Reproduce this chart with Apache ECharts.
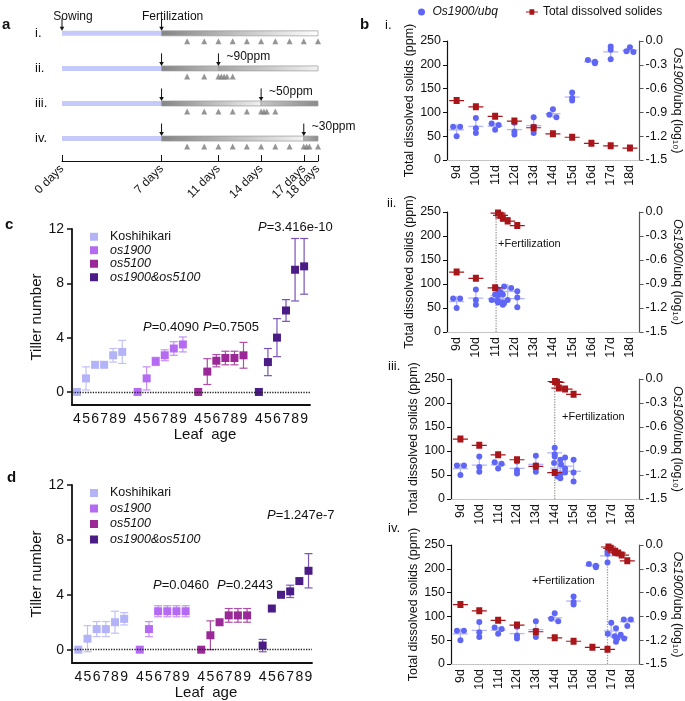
<!DOCTYPE html>
<html>
<head>
<meta charset="utf-8">
<script src="https://cdn.jsdelivr.net/npm/echarts@6.0.0/dist/echarts.min.js"></script>
<style>
html,body{margin:0;padding:0;background:#ffffff;}
#chart{width:685px;height:701px;}
</style>
</head>
<body>
<div id="chart"></div>
<script>
// ===== Panel a: experimental timeline =====
const timelineTickDays = [0, 7, 11, 14, 17, 18];
const timelineRowLabels = ['i.', 'ii.', 'iii.', 'iv.'];
const sowingDay = 0;
const fertilizationDay = 7;
const lastDay = 18;
const secondFertDays = [null, 11, 14, 17];
const secondFertLabels = ['', '~90ppm', '~50ppm', '~30ppm'];
const samplingDaysI = [8.8, 10, 11, 12, 13, 14, 15, 16, 17, 18];
const samplingDaysII = [8.8, 10, 11, 11.2, 11.4, 11.6, 12];
const samplingDaysIII = [8.8, 10, 11, 12, 13, 14, 14.2, 14.4, 15];
const samplingDaysIV = [8.8, 10, 11, 12, 13, 14, 15, 16, 17, 17.2, 17.4, 18];

// ===== Panel b: total dissolved solids (ppm) and Os1900/ubq (log10) =====
const bDayTicks = [9, 10, 11, 12, 13, 14, 15, 16, 17, 18];
const tdsI = [[9,125],[10,112],[11,92],[12,82],[13,68],[14,55],[15,48],[16,35],[17,30],[18,25]];
const tdsII = [[9,125],[10,112],[11,92],[11.15,248],[11.28,243],[11.4,238],[11.65,231],[12.15,222]];
const tdsIII = [[9,125],[10,112],[11,92],[12,82],[13,68],[14,55],[14.02,245],[14.12,243],[14.22,231],[14.55,229],[15,218]];
const tdsIV = [[9,125],[10,112],[11,92],[12,82],[13,68],[14,55],[15,48],[16,35],[16.8,31],[16.85,246],[16.97,243],[17.2,235],[17.37,233],[17.55,229],[17.85,217]];

const osI = [[9,[-1.08,-1.08,-1.20]],[10,[-0.97,-1.10,-1.16]],[11,[-1.04,-1.06,-1.12]],[12,[-1.03,-1.14,-1.18]],[13,[-0.96,-1.08,-1.16]],[14,[-0.86,-0.93,-0.96]],[15,[-0.65,-0.72,-0.75]],[16,[-0.24,-0.26,-0.28]],[17,[-0.07,-0.11,-0.23]],[18,[-0.08,-0.13,-0.14]]];
const osII = [[9,[-1.08,-1.08,-1.20]],[10,[-0.97,-1.10,-1.16]],[11,[-1.03,-1.10,-1.12]],[11.15,[-0.97,-1.04,-1.13]],[11.28,[-1.00,-1.11,-1.14]],[11.4,[-1.03,-1.13,-1.16]],[11.65,[-0.93,-0.95,-1.10]],[12.15,[-0.99,-1.07,-1.19]]];
const osIII = [[9,[-1.08,-1.08,-1.20]],[10,[-0.97,-1.10,-1.16]],[11,[-1.04,-1.06,-1.12]],[12,[-1.03,-1.14,-1.18]],[13,[-0.96,-1.08,-1.16]],[14,[-0.86,-0.94,-0.97]],[14.15,[-1.05,-1.07,-1.22]],[14.3,[-1.01,-1.19,-1.24]],[14.55,[-0.98,-1.12,-1.17]],[15,[-1.01,-1.17,-1.28]]];
const osIV = [[9,[-1.08,-1.08,-1.20]],[10,[-0.97,-1.10,-1.16]],[11,[-1.04,-1.06,-1.12]],[12,[-1.03,-1.14,-1.18]],[13,[-0.96,-1.08,-1.16]],[14,[-0.86,-0.93,-0.96]],[15,[-0.65,-0.72,-0.75]],[16,[-0.24,-0.26,-0.28]],[16.8,[-0.08,-0.11,-0.22]],[17,[-0.98,-1.12,-1.15]],[17.25,[-1.05,-1.17,-1.22]],[17.5,[-1.13,-1.18,-1.18]],[17.85,[-0.94,-0.94,-1.02]]];

const fertII = [11.05, 248];
const fertIII = [14.0, 245];
const fertIV = [16.8, 246];

// ===== Panels c, d: tiller number vs leaf age =====
const leafAges = [4, 5, 6, 7, 8, 9];
const genotypeNames = ['Koshihikari', 'os1900', 'os5100', 'os1900&os5100'];
const cKoshiMean = [0, 1.0, 2.0, 2.0, 2.7, 2.95];
const cKoshiErr = [0, 0.85, 0, 0, 0.5, 0.85];
const cOs1900Mean = [0, 1.0, 2.25, 2.7, 3.2, 3.5];
const cOs1900Err = [0, 0.85, 0.3, 0.4, 0.5, 0.55];
const cOs5100Mean = [0, 1.5, 2.3, 2.5, 2.5, 2.7];
const cOs5100Err = [0, 0.95, 0.45, 0.5, 0.5, 0.95];
const cDoubleMean = [0, 2.2, 4.0, 6.0, 9.0, 9.25];
const cDoubleErr = [0, 1.0, 1.4, 0.8, 2.3, 2.05];
const dKoshiMean = [0, 0.8, 1.5, 1.5, 2.0, 2.25];
const dKoshiErr = [0, 0.95, 0.55, 0.55, 0.8, 0.45];
const dOs1900Mean = [0, 1.5, 2.8, 2.8, 2.8, 2.8];
const dOs1900Err = [0, 0.55, 0.4, 0.4, 0.4, 0.4];
const dOs5100Mean = [0, 1.05, 2.0, 2.5, 2.5, 2.5];
const dOs5100Err = [0, 1.05, 0, 0.5, 0.5, 0.5];
const dDoubleMean = [0.3, 3.0, 4.0, 4.25, 5.0, 5.75];
const dDoubleErr = [0.45, 0, 0, 0.45, 0, 1.25];
const pValuesC = ['0.4090', '0.7505', '3.416e-10'];
const pValuesD = ['0.0460', '0.2443', '1.247e-7'];
const tillerTicks = [0, 4, 8, 12];

// ================= rendering =================
const chart = echarts.init(document.getElementById('chart'), null, {renderer: 'canvas', width: 685, height: 701});
const FONT = '"Liberation Sans", Arial, Helvetica, sans-serif';
const INK = '#111111';
const RED_SYM = 'path://M0,3 L4.5,3 L4.5,0 L10.5,0 L10.5,3 L15,3 L15,4.2 L10.5,4.2 L10.5,7 L4.5,7 L4.5,4.2 L0,4.2 Z';

// ---- panel a ----
const shadeFirst = [['#858585', '#ffffff'], ['#858585', '#bdbdbd'], ['#858585', '#f0f0f0'], ['#858585', '#f4f4f4']];
const shadeSecond = [null, ['#a3a3a3', '#f2f2f2'], ['#c6c6c6', '#8a8a8a'], ['#b3b3b3', '#8a8a8a']];
const blueBarData = timelineRowLabels.map((_, r) => [r, sowingDay, fertilizationDay]);
const greyBarData = [];
const greyBarShade = [];
timelineRowLabels.forEach((_, r) => {
  const mid = secondFertDays[r];
  greyBarData.push([r, fertilizationDay, mid == null ? lastDay : mid]);
  greyBarShade.push(shadeFirst[r]);
  if (mid != null) { greyBarData.push([r, mid, lastDay]); greyBarShade.push(shadeSecond[r]); }
});
function barRender(kind) {
  return function (params, api) {
    const r = api.value(0), x0 = api.value(1), x1 = api.value(2);
    const p0 = api.coord([x0, r]), p1 = api.coord([x1, r]);
    let style;
    if (kind === 'blue') style = {fill: '#c6cafb'};
    else {
      const sh = greyBarShade[params.dataIndex];
      style = {fill: new echarts.graphic.LinearGradient(0, 0, 1, 0, [{offset: 0, color: sh[0]}, {offset: 1, color: sh[1]}]), stroke: '#9a9a9a', lineWidth: 0.7};
    }
    return {type: 'rect', shape: {x: p0[0], y: p0[1] - 2.5, width: p1[0] - p0[0], height: 5}, style};
  };
}
const triangleData = [];
[samplingDaysI, samplingDaysII, samplingDaysIII, samplingDaysIV].forEach((days, r) => days.forEach(d => triangleData.push([d, r])));
const arrowData = [[sowingDay, 0, 'Sowing', 'above']];
timelineRowLabels.forEach((_, r) => {
  arrowData.push([fertilizationDay, r, r === 0 ? 'Fertilization' : '', 'above']);
  if (secondFertDays[r] != null) arrowData.push([secondFertDays[r], r, secondFertLabels[r], 'side']);
});
function arrowRender(params, api) {
  const p = api.coord([api.value(0), api.value(1)]);
  const a = arrowData[params.dataIndex];
  const x = p[0], yTop = p[1] - 15, yTip = p[1] - 2.5;
  const children = [
    {type: 'line', shape: {x1: x, y1: yTop, x2: x, y2: yTip - 3}, style: {stroke: INK, lineWidth: 1}},
    {type: 'polygon', shape: {points: [[x - 2.3, yTip - 4], [x + 2.3, yTip - 4], [x, yTip]]}, style: {fill: INK}}
  ];
  if (a[2]) {
    if (a[3] === 'above') children.push({type: 'text', x: x + 11, y: p[1] - 17, style: {text: a[2], align: 'center', verticalAlign: 'middle', fontSize: 12, fontFamily: FONT, fill: INK}});
    else children.push({type: 'text', x: x + 8, y: p[1] - 12, style: {text: a[2], align: 'left', verticalAlign: 'middle', fontSize: 12, fontFamily: FONT, fill: INK}});
  }
  return {type: 'group', children};
}

// ---- panel b ----
function dotsOf(groups) {
  const out = [];
  groups.forEach(([x, vals]) => {
    vals.forEach((v, j) => {
      const near = vals.filter((w, i) => i !== j && Math.abs(w - v) < 0.03).length;
      const before = vals.filter((w, i) => i < j && Math.abs(w - v) < 0.03).length;
      const off = near ? (before ? 3.5 : -3.5) : 0;
      out.push({value: [x, v], symbolOffset: [off, 0]});
    });
  });
  return out;
}
function meanSdOf(groups) {
  return groups.map(([x, vals]) => {
    const m = vals.reduce((s, v) => s + v, 0) / vals.length;
    const sd = Math.sqrt(vals.reduce((s, v) => s + (v - m) * (v - m), 0) / (vals.length - 1));
    return [x, m, sd];
  });
}
function meanSdRender(params, api) {
  const x = api.value(0), m = api.value(1), s = api.value(2);
  const pm = api.coord([x, m]), pt = api.coord([x, m + s]), pb = api.coord([x, m - s]);
  const st = {stroke: '#b2b6fb', lineWidth: 1.3};
  return {type: 'group', children: [
    {type: 'line', shape: {x1: pm[0] - 7.5, y1: pm[1], x2: pm[0] + 7.5, y2: pm[1]}, style: st},
    {type: 'line', shape: {x1: pt[0], y1: pt[1], x2: pb[0], y2: pb[1]}, style: st}
  ]};
}
const bSets = [
  {tds: tdsI, os: osI, fert: null},
  {tds: tdsII, os: osII, fert: fertII},
  {tds: tdsIII, os: osIII, fert: fertIII},
  {tds: tdsIV, os: osIV, fert: fertIV}
];
const bGrids = [
  {left: 447, top: 41, width: 194, height: 119},
  {left: 447, top: 212, width: 196, height: 120},
  {left: 451, top: 379, width: 194, height: 120},
  {left: 451, top: 545, width: 194, height: 119}
];

// ---- panels c, d ----
const GROUP_STRIDE = 6.7;
function gx(g, leaf) { return +(g * GROUP_STRIDE + (leaf - 4)).toFixed(3); }
const leafTickValues = [];
for (let g = 0; g < 4; g++) leafTickValues.push(...leafAges.map(l => gx(g, l)));
function leafLabel(v) {
  const g = Math.floor((v + 0.5) / GROUP_STRIDE);
  return String(Math.round(v - g * GROUP_STRIDE) + 4);
}
const genoColors = ['#b3b3f7', '#b46bf2', '#9b2897', '#4b1c85'];
const genoErrColors = ['#c0c0f8', '#c48ff5', '#ad4ea8', '#7954b8'];
function errRender(color) {
  return function (params, api) {
    const x = api.value(0), m = api.value(1), e = api.value(2);
    if (!e) return {type: 'group', children: []};
    const t = api.coord([x, m + e]), b = api.coord([x, m - e]);
    const st = {stroke: color, lineWidth: 1.2};
    return {type: 'group', children: [
      {type: 'line', shape: {x1: t[0], y1: t[1], x2: b[0], y2: b[1]}, style: st},
      {type: 'line', shape: {x1: t[0] - 4, y1: t[1], x2: t[0] + 4, y2: t[1]}, style: st},
      {type: 'line', shape: {x1: b[0] - 4, y1: b[1], x2: b[0] + 4, y2: b[1]}, style: st}
    ]};
  };
}
function tillerSeries(xi, yi, means, errs) {
  const out = [];
  means.forEach((mean, g) => {
    const err = errs[g];
    const errSeries = {
      type: 'custom', name: 'err' + g, xAxisIndex: xi, yAxisIndex: yi, z: 2, silent: true,
      encode: {x: 0, y: 1},
      data: leafAges.map((l, k) => [gx(g, l), mean[k], err[k]]),
      renderItem: errRender(genoErrColors[g])
    };
    if (g === 0) errSeries.markLine = {silent: true, symbol: 'none', label: {show: false}, lineStyle: {type: 'dotted', color: '#222', width: 1.3}, data: [{yAxis: 0}]};
    out.push(errSeries);
    out.push({
      type: 'scatter', name: genotypeNames[g], xAxisIndex: xi, yAxisIndex: yi, z: 4,
      symbol: 'rect', symbolSize: 8, itemStyle: {color: genoColors[g], opacity: 1},
      data: leafAges.map((l, k) => [gx(g, l), mean[k]])
    });
  });
  return out;
}

const series = [
  {type: 'custom', name: 'growth', xAxisIndex: 0, yAxisIndex: 0, data: blueBarData, renderItem: barRender('blue'), z: 2, silent: true, encode: {x: 1, y: 0}},
  {type: 'custom', name: 'nutrient', xAxisIndex: 0, yAxisIndex: 0, data: greyBarData, renderItem: barRender('grey'), z: 2, silent: true, encode: {x: 1, y: 0}},
  {type: 'scatter', name: 'sampling', xAxisIndex: 0, yAxisIndex: 0, data: triangleData, symbol: 'triangle', symbolSize: [6, 6], symbolOffset: [0, 8], itemStyle: {color: '#7a7a7a'}, silent: true, clip: false},
  {type: 'custom', name: 'arrows', xAxisIndex: 0, yAxisIndex: 0, data: arrowData.map(a => [a[0], a[1]]), renderItem: arrowRender, z: 3, silent: true, encode: {x: 0, y: 1}}
];
bSets.forEach((set, k) => {
  const xi = k + 1, yl = 1 + 2 * k, yr = 2 + 2 * k;
  if (set.fert) series.push({type: 'line', name: 'fert' + k, xAxisIndex: xi, yAxisIndex: yl, data: [[set.fert[0], 0], [set.fert[0], set.fert[1]]], symbol: 'none', lineStyle: {type: 'dotted', color: '#9a9a9a', width: 1.3}, z: 1, silent: true});
  series.push({type: 'custom', name: 'sd' + k, xAxisIndex: xi, yAxisIndex: yr, data: meanSdOf(set.os), renderItem: meanSdRender, z: 2, silent: true, encode: {x: 0, y: 1}});
  series.push({type: 'scatter', name: 'Os1900/ubq', xAxisIndex: xi, yAxisIndex: yr, data: dotsOf(set.os), symbol: 'circle', symbolSize: 6, itemStyle: {color: '#5f66f6', opacity: 1}, z: 3});
  series.push({type: 'scatter', name: 'Total dissolved solides', xAxisIndex: xi, yAxisIndex: yl, data: set.tds, symbol: RED_SYM, symbolSize: [15, 7], itemStyle: {color: '#a8161a', opacity: 1}, z: 5});
});
series.push(...tillerSeries(5, 9, [cKoshiMean, cOs1900Mean, cOs5100Mean, cDoubleMean], [cKoshiErr, cOs1900Err, cOs5100Err, cDoubleErr]));
series.push(...tillerSeries(6, 10, [dKoshiMean, dOs1900Mean, dOs5100Mean, dDoubleMean], [dKoshiErr, dOs1900Err, dOs5100Err, dDoubleErr]));

// ---- axes ----
const timelineMainTicks = timelineTickDays.slice(0, -1);
const timelineEndTick = timelineTickDays.slice(-1);
const timelineLabelStyle = {formatter: v => v + ' days', rotate: 45, fontSize: 12, color: INK, margin: 6, fontFamily: FONT,
  hideOverlap: false, showMinLabel: true, showMaxLabel: true};
const xAxes = [
  {gridIndex: 0, type: 'value', min: 0, max: lastDay, splitLine: {show: false},
   axisLine: {onZero: false, lineStyle: {color: INK, width: 1}},
   axisTick: {inside: true, length: 6, customValues: timelineMainTicks, lineStyle: {color: INK}},
   axisLabel: Object.assign({customValues: timelineMainTicks}, timelineLabelStyle)}
];
bGrids.forEach((g, k) => xAxes.push({
  gridIndex: k + 1, type: 'value', min: 8.5, max: 18.5, splitLine: {show: false},
  axisLine: {onZero: false, lineStyle: {color: '#bdbdbd', type: 'dotted', width: 1.2}},
  axisTick: {show: false},
  axisLabel: {customValues: bDayTicks, formatter: v => v + 'd', rotate: 90, fontSize: 12.5, color: INK, margin: 5, fontFamily: FONT, hideOverlap: false}
}));
[[5, -0.55, 25.75], [6, -0.69, 25.48]].forEach(([gi, mn, mx]) => xAxes.push({
  gridIndex: gi, type: 'value', min: mn, max: mx, splitLine: {show: false},
  axisLine: {onZero: false, lineStyle: {color: INK, width: 1.8}},
  axisTick: {show: false},
  axisLabel: {customValues: leafTickValues, formatter: leafLabel, fontSize: 14, color: INK, margin: 7, fontFamily: FONT, hideOverlap: false},
  name: 'Leaf  age', nameLocation: 'middle', nameGap: 22,
  nameTextStyle: {fontSize: 15, color: INK, fontFamily: FONT, padding: [0, 0, 0, 28]}
}));
// second bottom axis on panel a carrying the final day tick/label (avoids overlap hiding)
xAxes.push({gridIndex: 0, type: 'value', position: 'bottom', min: 0, max: lastDay, splitLine: {show: false},
  axisLine: {show: false, onZero: false},
  axisTick: {inside: true, length: 6, customValues: timelineEndTick, lineStyle: {color: INK}},
  axisLabel: Object.assign({customValues: timelineEndTick}, timelineLabelStyle)});

const yAxes = [
  {gridIndex: 0, type: 'value', inverse: true, min: -0.38, max: 3.64, splitLine: {show: false},
   axisLine: {show: false}, axisTick: {show: false},
   axisLabel: {customValues: [0, 1, 2, 3], formatter: v => timelineRowLabels[Math.round(v)], align: 'left', margin: 27, fontSize: 13, color: INK, fontFamily: FONT}}
];
bGrids.forEach((g, k) => {
  yAxes.push({
    gridIndex: k + 1, type: 'value', position: 'left', min: 0, max: 250, interval: 50, splitLine: {show: false},
    axisLine: {show: true, onZero: false, lineStyle: {color: INK, width: 1.2}},
    axisTick: {show: true, length: 4, lineStyle: {color: INK}},
    axisLabel: {fontSize: 12.5, color: INK, margin: 6, fontFamily: FONT},
    name: 'Total dissolved solids (ppm)', nameLocation: 'middle', nameGap: 29,
    nameTextStyle: {fontSize: 12.5, color: INK, fontFamily: FONT}
  });
  yAxes.push({
    gridIndex: k + 1, type: 'value', position: 'right', min: -1.5, max: 0, interval: 0.3, splitLine: {show: false},
    axisLine: {show: true, onZero: false, lineStyle: {color: '#555', width: 1.2}},
    axisTick: {show: true, length: 4, lineStyle: {color: '#555'}},
    axisLabel: {fontSize: 12.5, color: INK, margin: 6, fontFamily: FONT, formatter: v => v.toFixed(1)},
    name: '{i|Os1900}/ubq (log\u2081\u2080)', nameLocation: 'middle', nameGap: 30, nameRotate: -90,
    nameTextStyle: {fontSize: 12.5, color: INK, fontFamily: FONT, rich: {i: {fontStyle: 'italic', fontSize: 12.5, color: INK, fontFamily: FONT}}}
  });
});
[[5, -0.96], [6, -0.97]].forEach(([gi, mn]) => yAxes.push({
  gridIndex: gi, type: 'value', min: mn, max: 12, splitLine: {show: false},
  axisLine: {show: true, onZero: false, lineStyle: {color: INK, width: 1.8}},
  axisTick: {show: true, length: 5, customValues: tillerTicks, lineStyle: {color: INK, width: 1.5}},
  axisLabel: {customValues: tillerTicks, fontSize: 14, color: INK, margin: 8, fontFamily: FONT},
  name: 'Tiller number', nameLocation: 'middle', nameGap: 22,
  nameTextStyle: {fontSize: 15, color: INK, fontFamily: FONT}
}));

// ---- annotations ----
function txt(x, y, text, size, extra) {
  return Object.assign({type: 'text', x: x, y: y, silent: true,
    style: Object.assign({text: text, fontSize: size, fontFamily: FONT, fill: INK, align: 'left', verticalAlign: 'middle'}, extra || {})});
}
const pRich = {i: {fontStyle: 'italic', fontSize: 13, fontFamily: FONT, fill: INK}};
function pTxt(x, y, val) { return txt(x, y, '{i|P}=' + val, 13, {rich: pRich}); }
const graphics = [
  txt(2, 25, 'a', 15, {fontWeight: 'bold'}),
  txt(360, 25, 'b', 15, {fontWeight: 'bold'}),
  txt(5, 225, 'c', 15, {fontWeight: 'bold'}),
  txt(7, 478, 'd', 15, {fontWeight: 'bold'}),
  txt(385, 25, 'i.', 13), txt(387, 203, 'ii.', 13), txt(388, 366, 'iii.', 13), txt(388, 528, 'iv.', 13),
  txt(498, 244, '+Fertilization', 11), txt(562, 417, '+Fertilization', 11), txt(532, 581, '+Fertilization', 11),
  pTxt(143, 327, pValuesC[0]), pTxt(203, 327, pValuesC[1]), pTxt(258, 227, pValuesC[2]),
  pTxt(153, 585, pValuesD[0]), pTxt(217, 585, pValuesD[1]), pTxt(267, 515, pValuesD[2])
];

const genoLegendData = genotypeNames.map((n, i) => ({name: n, textStyle: {fontStyle: i ? 'italic' : 'normal'}}));
const option = {
  animation: false,
  backgroundColor: '#ffffff',
  textStyle: {fontFamily: FONT},
  grid: [{left: 62, top: 20, width: 256, height: 141}].concat(bGrids, [
    {left: 72, top: 229, width: 238, height: 176},
    {left: 72, top: 485, width: 240, height: 178}
  ]),
  xAxis: xAxes,
  yAxis: yAxes,
  legend: [
    {data: [{name: 'Os1900/ubq', icon: 'circle', textStyle: {fontStyle: 'italic'}}, {name: 'Total dissolved solides', icon: RED_SYM}],
     left: 413, top: 1, itemWidth: 12, itemHeight: 7, itemGap: 28, selectedMode: false,
     textStyle: {fontSize: 12, color: INK, fontFamily: FONT}},
    {data: genoLegendData, orient: 'vertical', left: 85, top: 225, icon: 'rect', itemWidth: 8, itemHeight: 8, itemGap: 0, selectedMode: false,
     textStyle: {fontSize: 12.5, color: INK, fontFamily: FONT, padding: [0, 0, 0, 7], lineHeight: 13.5}},
    {data: genoLegendData, orient: 'vertical', left: 85, top: 481, icon: 'rect', itemWidth: 8, itemHeight: 8, itemGap: 1.5, selectedMode: false,
     textStyle: {fontSize: 12.5, color: INK, fontFamily: FONT, padding: [0, 0, 0, 7], lineHeight: 14}}
  ],
  graphic: graphics,
  series: series
};
chart.setOption(option);
</script>
</body>
</html>
